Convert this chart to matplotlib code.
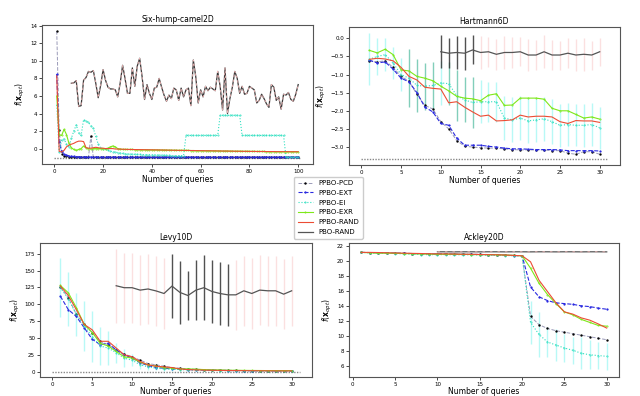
import numpy as np
import matplotlib
matplotlib.use('Agg')
import matplotlib.pyplot as plt

# ---------------- data ----------------
# Six-hump-camel2D, queries 1..100
camel_pcd = [13.4, 2.1, -0.6, -0.8, -0.9, -0.95, -0.97, -0.98, -0.99, -0.99,
             -1.0, -1.0, -1.0, -1.0, 1.45, -1.0, -1.0, -1.0, -1.0, -1.0,
             -1.0, -1.0, -1.0, -1.0, -1.0, -1.0, -1.0, -1.0, -1.0, -1.0,
             -1.0, -1.0, -1.0, -1.0, -1.0, -1.0, -1.0, -1.0, -1.0, -1.0,
             -1.0, -1.0, -1.0, -1.0, -1.0, -1.0, -1.0, -1.0, -1.0, -1.0,
             -1.0, -1.0, -1.0, -1.0, -1.0, -1.0, -1.0, -1.0, -1.0, -1.0,
             -1.0, -1.0, -1.0, -1.0, -1.0, -1.0, -1.0, -1.0, -1.0, -1.0,
             -1.0, -1.0, -1.0, -1.0, -1.0, -1.0, -1.0, -1.0, -1.0, -1.0,
             -1.0, -1.0, -1.0, -1.0, -1.0, -1.0, -1.0, -1.0, -1.0, -1.0,
             -1.0, -1.0, -1.0, -1.0, -1.0, -1.0, -1.0, -1.0, -1.0, -1.0]
camel_ext = [8.5, 0.8, -0.3, -0.6, -0.75, -0.82, -0.88, -0.9, -0.92, -0.93,
             -0.94, -0.95, -0.95, -0.96, -0.96, -0.96, -0.97, -0.97, -0.97, -0.97,
             -0.97, -0.97, -0.97, -0.97, -0.97, -0.98, -0.98, -0.98, -0.98, -0.98,
             -0.98, -0.98, -0.98, -0.98, -0.98, -0.98, -0.98, -0.98, -0.98, -0.98,
             -0.98, -0.98, -0.98, -0.98, -0.98, -0.98, -0.98, -0.98, -0.98, -0.98,
             -0.98, -0.98, -0.98, -0.98, -0.98, -0.98, -0.98, -0.98, -0.98, -0.98,
             -0.98, -0.98, -0.98, -0.98, -0.98, -0.98, -0.98, -0.98, -0.98, -0.98,
             -0.98, -0.98, -0.98, -0.98, -0.98, -0.98, -0.98, -0.98, -0.98, -0.98,
             -0.98, -0.98, -0.98, -0.98, -0.98, -0.98, -0.98, -0.98, -0.98, -0.98,
             -0.98, -0.98, -0.98, -0.98, -0.98, -0.98, -0.98, -0.98, -0.98, -0.98]
camel_ei = [5.0, -0.4, 1.0, 1.1, 0.5, 0.2, 1.2, 2.0, 2.7, 1.8,
            1.5, 3.3, 3.1, 3.0, 2.6, 2.3, 1.4, 0.5, 0.1, 0.0,
            -0.1, -0.2, -0.3, -0.35, -0.4, -0.45, -0.5, -0.55, -0.6, -0.6,
            -0.62, -0.64, -0.65, -0.66, -0.67, -0.68, -0.7, -0.7, -0.7, -0.71,
            -0.72, -0.73, -0.74, -0.75, -0.76, -0.77, -0.78, -0.79, -0.8, -0.8,
            -0.8, -0.8, -0.8, 1.5, 1.5, 1.5, 1.5, 1.5, 1.5, 1.5,
            1.5, 1.5, 1.5, 1.5, 1.5, 1.5, 1.5, 3.8, 3.8, 3.8,
            3.8, 3.8, 3.8, 3.8, 3.8, 3.8, 1.5, 1.5, 1.5, 1.5,
            1.5, 1.5, 1.5, 1.5, 1.5, 1.5, 1.5, 1.5, 1.5, 1.5,
            1.5, 1.5, 1.5, 1.5, -1.0, -1.0, -1.0, -1.0, -1.0, -1.0]
camel_exr = [6.0, 1.6, 1.5, 2.2, 1.6, 0.6, 0.1, -0.1, -0.2, -0.1,
             0.0, 0.3, 0.1, 0.0, -0.05, 0.0, 0.0, 0.0, 0.0, 0.0,
             0.0, 0.05, 0.2, 0.3, 0.2, 0.0, -0.05, -0.1, -0.1, -0.1,
             -0.1, -0.1, -0.12, -0.12, -0.12, -0.13, -0.13, -0.14, -0.14, -0.15,
             -0.15, -0.15, -0.16, -0.16, -0.17, -0.17, -0.18, -0.18, -0.19, -0.19,
             -0.2, -0.2, -0.2, -0.21, -0.21, -0.22, -0.22, -0.23, -0.23, -0.24,
             -0.24, -0.25, -0.25, -0.25, -0.26, -0.26, -0.27, -0.27, -0.28, -0.28,
             -0.28, -0.29, -0.29, -0.3, -0.3, -0.3, -0.31, -0.31, -0.31, -0.32,
             -0.32, -0.32, -0.33, -0.33, -0.33, -0.33, -0.34, -0.34, -0.34, -0.34,
             -0.35, -0.35, -0.35, -0.35, -0.35, -0.35, -0.36, -0.36, -0.36, -0.36]
camel_rand = [8.3, -0.3, -0.4, -0.2, 0.2, 0.4, 0.5, 0.6, 0.75, 0.85,
              0.85, 0.8, 0.1, 0.05, 0.05, 0.1, 0.15, 0.1, 0.05, 0.05,
              0.0, 0.0, 0.0, 0.0, -0.05, -0.05, -0.06, -0.07, -0.08, -0.09,
              -0.1, -0.1, -0.11, -0.11, -0.12, -0.12, -0.13, -0.13, -0.14, -0.14,
              -0.15, -0.15, -0.16, -0.16, -0.17, -0.17, -0.18, -0.18, -0.19, -0.19,
              -0.2, -0.2, -0.2, -0.21, -0.21, -0.22, -0.22, -0.23, -0.23, -0.24,
              -0.24, -0.25, -0.25, -0.25, -0.26, -0.26, -0.27, -0.27, -0.28, -0.28,
              -0.28, -0.29, -0.29, -0.3, -0.3, -0.3, -0.31, -0.31, -0.31, -0.32,
              -0.32, -0.32, -0.33, -0.33, -0.33, -0.33, -0.34, -0.34, -0.34, -0.34,
              -0.35, -0.35, -0.35, -0.35, -0.35, -0.35, -0.36, -0.36, -0.36, -0.36]
camel_pbo_start = 7
camel_pbo = [7.45, 7.5, 7.75, 4.8, 4.9, 7.8, 8.1, 8.8, 8.7, 8.9,
             7.45, 5.8, 7.2, 9.0, 7.8, 7.0, 6.8, 6.8, 6.7, 5.9,
             7.45, 9.5, 8.0, 6.3, 6.3, 9.2, 7.1, 9.4, 10.3, 8.2,
             5.6, 7.3, 6.3, 5.6, 6.9, 7.0, 8.0, 7.0, 6.1, 5.4,
             6.1, 5.7, 6.9, 6.7, 5.5, 6.9, 5.9, 6.7, 6.9, 4.9,
             10.1, 8.2, 5.2, 6.7, 5.9, 7.1, 6.6, 7.0, 6.8, 6.6,
             8.8, 7.1, 4.4, 9.2, 4.0, 5.7, 7.0, 8.8, 8.0, 6.3,
             7.1, 6.2, 6.3, 7.1, 6.9, 6.7, 5.2, 5.5, 6.2, 5.7,
             5.1, 4.7, 7.3, 7.0, 5.5, 5.9, 4.5, 6.2, 6.1, 6.4,
             5.6, 5.4, 6.2, 7.3]
camel_opt = -1.03

# Hartmann6D, queries 1..30
hart_pcd = [-0.62, -0.65, -0.62, -0.8, -1.05, -1.18, -1.55, -1.85, -1.95, -2.3,
            -2.5, -2.82, -2.98, -3.0, -3.02, -3.03, -3.03, -3.05, -3.07, -3.08,
            -3.08, -3.08, -3.08, -3.1, -3.1, -3.17, -3.2, -3.13, -3.13, -3.2]
hart_ext = [-0.6, -0.68, -0.65, -0.85, -1.1, -1.2, -1.5, -1.9, -2.03, -2.35,
            -2.4, -2.75, -2.95, -2.95, -2.95, -2.98, -3.0, -3.03, -3.05, -3.05,
            -3.06, -3.07, -3.07, -3.07, -3.08, -3.1, -3.1, -3.1, -3.1, -3.11]
hart_ei = [-0.58, -0.5, -0.45, -0.68, -1.0, -1.1, -1.3, -1.32, -1.3, -1.23,
           -1.25, -1.58, -1.7, -1.77, -1.75, -1.75, -1.75, -2.2, -2.25, -2.2,
           -2.28, -2.25, -2.22, -2.3, -2.4, -2.38, -2.4, -2.4, -2.38, -2.47]
hart_ei_err = [0.72, 0.5, 0.45, 0.45, 0.45, 0.8, 0.73, 0.65, 0.65, 0.6,
               0.6, 0.7, 0.62, 0.7, 0.6, 0.55, 0.55, 0.6, 0.62, 0.6,
               0.62, 0.6, 0.6, 0.62, 0.6, 0.6, 0.58, 0.6, 0.6, 0.58]
hart_exr = [-0.33, -0.4, -0.3, -0.45, -0.87, -0.9, -1.05, -1.1, -1.17, -1.32,
            -1.45, -1.6, -1.65, -1.67, -1.72, -1.57, -1.53, -1.85, -1.84, -1.65,
            -1.65, -1.65, -1.68, -1.93, -2.0, -2.0, -2.1, -2.2, -2.17, -2.23]
hart_rand = [-0.58, -0.55, -0.57, -0.62, -0.8, -1.05, -1.15, -1.35, -1.38, -1.4,
             -1.78, -1.75, -1.9, -2.03, -2.15, -2.12, -2.28, -2.27, -2.25, -2.12,
             -2.17, -2.15, -2.15, -2.17, -2.3, -2.35, -2.27, -2.28, -2.28, -2.32]
hart_pbo_start = 10
hart_pbo = [-0.37, -0.41, -0.39, -0.41, -0.32, -0.39, -0.37, -0.44, -0.39, -0.39,
            -0.37, -0.46, -0.46, -0.37, -0.46, -0.46, -0.41, -0.46, -0.44, -0.46, -0.37]
hart_pbo_err = [0.45, 0.42, 0.45, 0.45, 0.4, 0.45, 0.42, 0.42, 0.45, 0.42,
                0.4, 0.45, 0.42, 0.45, 0.42, 0.4, 0.42, 0.45, 0.45, 0.4, 0.38]
hart_opt = -3.32

# Levy10D, queries 1..30
levy_pcd = [125, 110, 85, 70, 58, 45, 40, 32, 26, 22,
            17, 12, 10, 8, 6, 5, 4, 3.5, 3, 2.5,
            2.2, 2, 1.8, 1.6, 1.5, 1.4, 1.3, 1.2, 1.1, 1.0]
levy_ext = [112, 92, 82, 65, 48, 40, 42, 32, 25, 20,
            13, 9, 6, 5, 4, 3.5, 3, 2.5, 2.2, 2,
            1.8, 1.6, 1.5, 1.4, 1.3, 1.2, 1.1, 1.0, 1.0, 1.0]
levy_ei = [125, 108, 85, 68, 52, 38, 35, 28, 20, 17,
           10, 7, 5, 4, 3.5, 3, 2.5, 2.2, 2, 1.8,
           1.6, 1.5, 1.4, 1.3, 1.2, 1.1, 1.0, 1.0, 1.0, 1.0]
levy_ei_err = [44, 40, 32, 37, 38, 28, 25, 15, 13, 9,
               6, 4, 3, 2.5, 2, 1.5, 1.2, 1, 1, 1,
               1, 1, 1, 1, 1, 1, 1, 1, 1, 1]
levy_exr = [128, 117, 95, 70, 58, 42, 38, 30, 22, 20,
            14, 10, 8, 6, 5, 4, 4, 3.5, 3, 2.5,
            2.5, 2, 2, 1.8, 1.7, 1.6, 1.5, 1.5, 1.5, 1.5]
levy_rand = [127, 113, 92, 70, 62, 45, 45, 35, 25, 22,
             15, 10, 8, 7, 6, 4, 3, 2.5, 2.2, 2,
             1.8, 1.6, 1.5, 1.4, 1.3, 1.2, 1.1, 1.0, 1.0, 1.0]
levy_pbo_start = 8
levy_pbo = [127.5, 124.6, 124.6, 121, 122.7, 119.8, 116, 127, 117.5, 113,
            121, 124.6, 119, 116, 114, 114, 120, 116, 121, 120, 120, 115, 120]
levy_pbo_err = [55, 52, 52, 52, 52, 52, 52, 48, 47, 36,
                45, 48, 47, 47, 46, 52, 52, 52, 52, 52, 52, 52, 52]
levy_opt = 0.0

# Ackley20D, queries 1..30
ack_pcd = [21.1, 21.08, 21.05, 21.02, 21.0, 20.98, 20.95, 20.93, 20.92, 20.9,
           20.9, 20.88, 20.87, 20.85, 20.85, 20.82, 20.8, 20.75, 20.7, 20.65,
           12.6, 11.5, 11.0, 10.7, 10.5, 10.3, 10.1, 9.9, 9.7, 9.5]
ack_ext = [21.1, 21.08, 21.05, 21.02, 21.0, 20.98, 20.95, 20.93, 20.9, 20.88,
           20.88, 20.86, 20.85, 20.83, 20.82, 20.8, 20.78, 20.72, 20.68, 20.65,
           16.5, 15.2, 14.7, 14.4, 14.3, 14.2, 14.0, 13.9, 13.7, 13.55]
ack_ei = [21.1, 21.05, 21.0, 20.98, 20.95, 20.9, 20.85, 20.82, 20.8, 20.8,
          20.8, 20.78, 20.78, 20.78, 20.75, 20.72, 20.7, 20.68, 20.66, 20.65,
          11.8, 10.2, 9.2, 8.8, 8.4, 8.1, 7.7, 7.5, 7.4, 7.3]
ack_ei_err = [0, 0, 0, 0.05, 0.1, 0.1, 0.15, 0.15, 0.1, 0.15,
              0.1, 0.1, 0.1, 0.1, 0.1, 0.1, 0.1, 0.1, 0.1, 0.05,
              2.85, 3.0, 2.0, 2.1, 1.8, 1.8, 2.1, 1.9, 1.8, 1.8]
ack_exr = [21.1, 21.05, 21.0, 21.0, 20.98, 20.95, 20.92, 20.9, 20.88, 20.85,
           20.85, 20.85, 20.83, 20.82, 20.8, 20.8, 20.78, 20.75, 20.7, 20.65,
           19.0, 17.0, 15.5, 14.3, 13.2, 12.8, 12.2, 11.8, 11.4, 11.3]
ack_rand = [21.1, 21.1, 21.08, 21.05, 21.02, 21.0, 20.97, 20.95, 20.92, 20.9,
            20.9, 20.88, 20.85, 20.85, 20.82, 20.8, 20.78, 20.75, 20.7, 20.65,
            19.85, 17.4, 15.9, 14.4, 13.2, 12.9, 12.4, 12.1, 11.6, 11.05]
ack_pbo_start = 10
ack_pbo = [21.18, 21.18, 21.17, 21.18, 21.18, 21.17, 21.18, 21.18, 21.17, 21.18,
           21.18, 21.17, 21.18, 21.18, 21.17, 21.18, 21.18, 21.17, 21.18, 21.18, 21.17]

labels = ['PPBO-PCD', 'PPBO-EXT', 'PPBO-EI', 'PPBO-EXR', 'PPBO-RAND', 'PBO-RAND']

# ---------------- styles ----------------
styles = {
    'PPBO-PCD': dict(color='#9a9ab8', lw=0.7, ls='--', marker='.', ms=1.4, mfc='k', mec='k'),
    'PPBO-EXT': dict(color='#2a2ae0', lw=0.8, ls='--', marker='s', ms=0.6),
    'PPBO-EI': dict(color='#2fe0c0', lw=0.8, ls=':', marker='.', ms=0.8),
    'PPBO-EXR': dict(color='#7ee81a', lw=0.8, ls='-', marker='.', ms=0.8),
    'PPBO-RAND': dict(color='#ec4c34', lw=0.8, ls='-'),
    'PBO-RAND': dict(color='#555555', lw=0.9, ls='-'),
}

plt.rcParams['font.family'] = 'DejaVu Sans'
fig = plt.figure(figsize=(6.4, 3.96), dpi=100)

positions = [
    [0.0656, 0.586, 0.4234, 0.351],
    [0.5453, 0.583, 0.4234, 0.3485],
    [0.0625, 0.047, 0.425, 0.3394],
    [0.5453, 0.047, 0.4219, 0.3394],
]
axes = [fig.add_axes(p) for p in positions]


def style_axes(ax, title, xlim, ylim, xpad=1):
    ax.set_title(title, fontsize=5.5, pad=2)
    ax.set_xlabel('Number of queries', fontsize=5.5, labelpad=xpad)
    ax.set_ylabel(r'$f(\mathbf{x}_{opt})$', fontsize=5.5, labelpad=2)
    ax.set_xlim(*xlim)
    ax.set_ylim(*ylim)
    ax.tick_params(labelsize=4, length=2, width=0.5, pad=1.5)
    for s in ax.spines.values():
        s.set_color('#555555')
        s.set_linewidth(0.8)


def plot_ppbo(ax, series):
    for lab, vals in zip(labels[:5], series):
        x = np.arange(1, len(vals) + 1)
        ax.plot(x, vals, label=lab, **styles[lab])


def plot_opt(ax, val, xmax):
    ax.plot([0, xmax], [val, val], color='#888888', lw=1.0, ls=(0, (1, 1)))


# --- Six-hump-camel2D
ax = axes[0]
plot_opt(ax, camel_opt, 101)
plot_ppbo(ax, [camel_pcd, camel_ext, camel_ei, camel_exr, camel_rand])
xp = np.arange(camel_pbo_start, camel_pbo_start + len(camel_pbo))
ax.plot(xp, camel_pbo, label='PBO-RAND', color='#3a3a3a', lw=0.9)
ax.plot(xp, camel_pbo, color='#f4b8b8', lw=0.6, ls=(0, (3, 3)))
ax.set_yticks(np.arange(0, 15, 2))
ax.set_xticks(np.arange(0, 101, 20))
style_axes(ax, 'Six-hump-camel2D', (-5.05, 106.05), (-1.75, 14.1))

# --- Hartmann6D
ax = axes[1]
xh = np.arange(1, len(hart_ei) + 1)
dark = [(6 <= v <= 9) or (11 <= v <= 14) for v in xh]
light = [not d for d in dark]
ax.errorbar(xh[light], np.array(hart_ei)[light], yerr=np.array(hart_ei_err)[light],
            fmt='none', ecolor='#7ff5f0', alpha=0.55, elinewidth=1.0)
ax.errorbar(xh[dark], np.array(hart_ei)[dark], yerr=np.array(hart_ei_err)[dark],
            fmt='none', ecolor='#3fb595', alpha=0.65, elinewidth=1.0)
xp = np.arange(hart_pbo_start, hart_pbo_start + len(hart_pbo))
ax.errorbar(xp[:5], hart_pbo[:5], yerr=hart_pbo_err[:5], fmt='none',
            ecolor='#333333', alpha=0.85, elinewidth=1.0)
ax.errorbar(xp[5:], hart_pbo[5:], yerr=hart_pbo_err[5:], fmt='none',
            ecolor='#f9cccc', alpha=0.6, elinewidth=1.0)
plot_opt(ax, hart_opt, 31)
plot_ppbo(ax, [hart_pcd, hart_ext, hart_ei, hart_exr, hart_rand])
ax.plot(xp, hart_pbo, label='PBO-RAND', **styles['PBO-RAND'])
ax.set_xticks(np.arange(0, 31, 5))
ax.set_yticks(np.arange(-3.0, 0.01, 0.5))
style_axes(ax, 'Hartmann6D', (-1.55, 32.55), (-3.5, 0.31))

# --- Levy10D
ax = axes[2]
xl = np.arange(1, len(levy_ei) + 1)
ax.errorbar(xl, levy_ei, yerr=levy_ei_err, fmt='none', ecolor='#7ff5f0',
            alpha=0.55, elinewidth=1.0)
xp = np.arange(levy_pbo_start, levy_pbo_start + len(levy_pbo))
blk = [(15 <= v <= 22) for v in xp]
pnk = [not b for b in blk]
ax.errorbar(xp[pnk], np.array(levy_pbo)[pnk], yerr=np.array(levy_pbo_err)[pnk],
            fmt='none', ecolor='#f9cccc', alpha=0.6, elinewidth=1.0)
ax.errorbar(xp[blk], np.array(levy_pbo)[blk], yerr=np.array(levy_pbo_err)[blk],
            fmt='none', ecolor='#333333', alpha=0.85, elinewidth=1.0)
plot_opt(ax, levy_opt, 31)
plot_ppbo(ax, [levy_pcd, levy_ext, levy_ei, levy_exr, levy_rand])
ax.plot(xp, levy_pbo, label='PBO-RAND', **styles['PBO-RAND'])
ax.set_xticks(np.arange(0, 31, 5))
ax.set_yticks(np.arange(0, 176, 25))
style_axes(ax, 'Levy10D', (-1.55, 32.55), (-8.6, 191), xpad=0)

# --- Ackley20D
ax = axes[3]
xa = np.arange(1, len(ack_ei) + 1)
ax.errorbar(xa, ack_ei, yerr=ack_ei_err, fmt='none', ecolor='#7ff5f0',
            alpha=0.55, elinewidth=1.0)
plot_ppbo(ax, [ack_pcd, ack_ext, ack_ei, ack_exr, ack_rand])
xp = np.arange(ack_pbo_start, ack_pbo_start + len(ack_pbo))
ax.plot(xp, ack_pbo, label='PBO-RAND', **styles['PBO-RAND'])
ax.plot(xp, ack_pbo, color='#f4b8b8', lw=0.6, ls=(0, (3, 6)))
ax.set_xticks(np.arange(0, 31, 5))
ax.set_yticks(np.arange(6, 23, 2))
style_axes(ax, 'Ackley20D', (-0.45, 31.45), (4.5, 22.35), xpad=0)

handles, labs = axes[1].get_legend_handles_labels()
fig.legend(handles, labs, loc='upper left', bbox_to_anchor=(0.454, 0.563),
           fontsize=5, labelspacing=0.55, handlelength=2.2, borderpad=0.5,
           framealpha=1, edgecolor='#cccccc', fancybox=True)

fig.savefig('out.png', dpi=100)
